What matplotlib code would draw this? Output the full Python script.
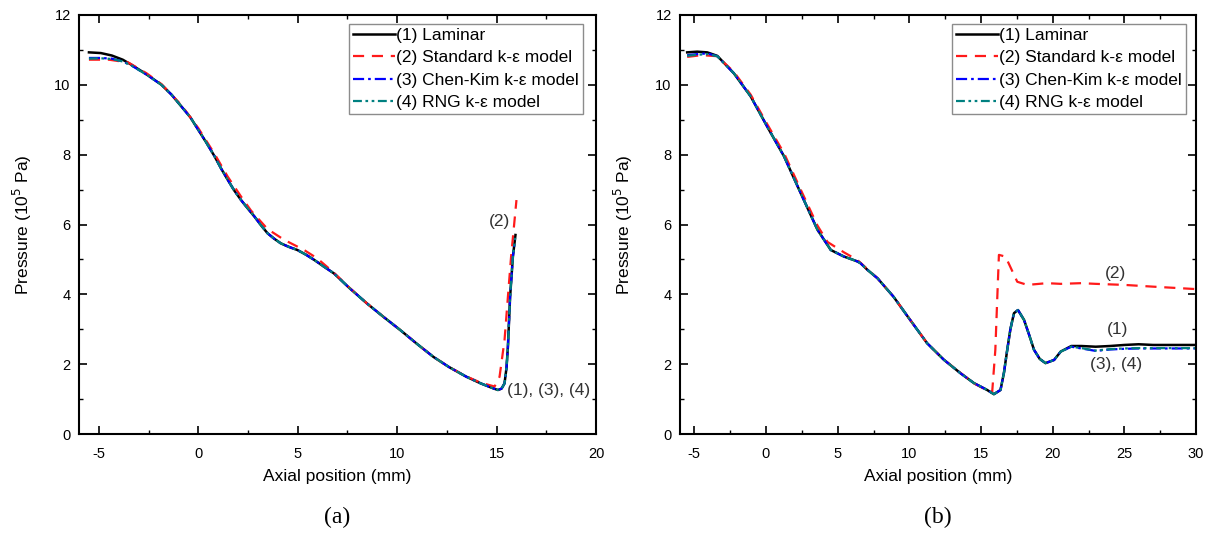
import matplotlib
matplotlib.use("Agg")
import matplotlib.pyplot as plt
from matplotlib.ticker import MultipleLocator

plt.rcParams['font.family'] = ['Liberation Sans', 'DejaVu Sans']
plt.rcParams['axes.unicode_minus'] = False

# ---------------- Panel (a) data ----------------
a_lam_x = [-5.5, -4.9, -4.35, -3.8, -3.35, -2.6, -1.85, -1.35, -0.85, -0.4, 0.0, 0.4, 0.82, 1.15, 1.48, 1.8, 2.15, 2.5, 2.82, 3.15, 3.48, 3.8, 4.15, 4.55, 4.98, 5.4, 5.82, 6.3, 6.82, 7.6, 8.48, 9.3, 10.15, 11.0, 11.82, 12.6, 13.48, 14.2, 14.82, 15.07, 15.25, 15.4, 15.5, 15.57, 15.68, 15.82, 15.95]
a_lam_y = [10.93, 10.91, 10.84, 10.72, 10.57, 10.3, 10.0, 9.72, 9.38, 9.07, 8.71, 8.35, 7.95, 7.6, 7.28, 6.98, 6.7, 6.45, 6.23, 5.98, 5.75, 5.6, 5.46, 5.36, 5.27, 5.14, 4.99, 4.8, 4.6, 4.18, 3.74, 3.36, 2.98, 2.58, 2.21, 1.92, 1.64, 1.45, 1.31, 1.26, 1.3, 1.45, 1.9, 2.5, 3.93, 5.08, 5.7]

a_std_x = [-5.5, -4.5, -3.52, -2.6, -1.85, -0.85, 0.0, 0.82, 1.48, 2.15, 2.65, 3.48, 4.32, 5.32, 5.98, 6.82, 7.6, 8.48, 9.3, 10.15, 11.0, 11.82, 12.6, 13.48, 14.2, 14.9, 15.15, 15.4, 15.57, 15.73, 16.0]
a_std_y = [10.72, 10.72, 10.64, 10.33, 10.02, 9.42, 8.76, 8.02, 7.37, 6.8, 6.4, 5.87, 5.56, 5.27, 5.03, 4.62, 4.19, 3.74, 3.36, 2.98, 2.58, 2.21, 1.92, 1.65, 1.47, 1.36, 1.64, 2.69, 3.93, 5.08, 6.7]

a_ck_x = [-5.5, -4.9, -4.35, -3.8, -3.35, -2.6, -1.85, -1.35, -0.85, -0.4, 0.0, 0.4, 0.82, 1.15, 1.48, 1.8, 2.15, 2.5, 2.82, 3.15, 3.48, 3.8, 4.15, 4.55, 4.98, 5.4, 5.82, 6.3, 6.82, 7.6, 8.48, 9.3, 10.15, 11.0, 11.82, 12.6, 13.48, 14.2, 14.82, 15.07, 15.25, 15.4, 15.5, 15.57, 15.68, 15.82, 15.93]
a_ck_y = [10.77, 10.77, 10.75, 10.67, 10.55, 10.29, 10.0, 9.72, 9.38, 9.07, 8.71, 8.35, 7.95, 7.6, 7.28, 6.98, 6.7, 6.45, 6.23, 5.98, 5.75, 5.6, 5.46, 5.36, 5.27, 5.14, 4.99, 4.8, 4.6, 4.18, 3.74, 3.36, 2.98, 2.58, 2.21, 1.92, 1.64, 1.45, 1.31, 1.26, 1.3, 1.45, 1.9, 2.5, 3.93, 5.08, 5.6]

a_rng_x = a_ck_x
a_rng_y = [10.75, 10.76, 10.74, 10.67, 10.55, 10.29, 10.0, 9.72, 9.38, 9.07, 8.71, 8.35, 7.95, 7.6, 7.28, 6.98, 6.7, 6.45, 6.23, 5.98, 5.75, 5.6, 5.46, 5.36, 5.27, 5.14, 4.99, 4.8, 4.6, 4.18, 3.74, 3.36, 2.98, 2.58, 2.21, 1.92, 1.64, 1.45, 1.31, 1.26, 1.3, 1.45, 1.9, 2.5, 3.93, 5.08, 5.62]

# ---------------- Panel (b) data ----------------
b_lam_x = [-5.5, -4.8, -4.1, -3.4, -2.24, -1.07, 0.09, 1.26, 2.42, 3.59, 4.52, 5.45, 6.0, 6.39, 6.6, 7.08, 7.78, 8.9, 10.0, 11.24, 12.4, 13.57, 14.5, 15.43, 15.9, 16.36, 16.6, 16.83, 17.05, 17.3, 17.58, 18.0, 18.35, 18.7, 19.1, 19.5, 20.1, 20.56, 21.3, 22.0, 23.0, 24.0, 25.0, 26.0, 27.0, 28.0, 30.0]
b_lam_y = [10.93, 10.95, 10.93, 10.83, 10.33, 9.67, 8.8, 7.95, 6.9, 5.85, 5.27, 5.08, 5.0, 4.94, 4.89, 4.7, 4.46, 3.93, 3.3, 2.6, 2.13, 1.74, 1.46, 1.26, 1.14, 1.26, 1.75, 2.41, 3.0, 3.46, 3.55, 3.27, 2.85, 2.41, 2.15, 2.03, 2.12, 2.36, 2.52, 2.52, 2.5, 2.52, 2.55, 2.57, 2.55, 2.55, 2.55]

b_std_x = [-5.5, -4.5, -3.4, -2.24, -1.07, 0.09, 1.26, 2.42, 3.59, 4.29, 5.45, 6.39, 7.08, 7.78, 8.9, 10.0, 11.24, 12.4, 13.57, 14.5, 15.43, 15.78, 16.0, 16.13, 16.25, 16.71, 17.53, 18.23, 19.6, 20.56, 22.0, 23.0, 25.0, 27.0, 30.0]
b_std_y = [10.8, 10.85, 10.82, 10.37, 9.72, 8.87, 8.04, 7.0, 5.97, 5.5, 5.2, 4.98, 4.72, 4.46, 3.93, 3.3, 2.6, 2.13, 1.75, 1.45, 1.25, 1.2, 2.41, 3.84, 5.13, 5.08, 4.36, 4.27, 4.32, 4.3, 4.32, 4.3, 4.27, 4.22, 4.15]

b_ck_x = b_lam_x
b_ck_y = [10.85, 10.88, 10.9, 10.82, 10.33, 9.67, 8.8, 7.95, 6.9, 5.85, 5.27, 5.08, 5.0, 4.94, 4.89, 4.7, 4.46, 3.93, 3.3, 2.6, 2.13, 1.74, 1.46, 1.26, 1.14, 1.26, 1.75, 2.41, 3.0, 3.46, 3.55, 3.27, 2.85, 2.41, 2.15, 2.03, 2.12, 2.36, 2.5, 2.45, 2.38, 2.42, 2.44, 2.45, 2.45, 2.45, 2.45]

b_rng_x = b_lam_x
b_rng_y = [10.83, 10.86, 10.88, 10.82, 10.33, 9.67, 8.8, 7.95, 6.9, 5.85, 5.27, 5.08, 5.0, 4.94, 4.89, 4.7, 4.46, 3.93, 3.3, 2.6, 2.13, 1.74, 1.46, 1.26, 1.14, 1.26, 1.75, 2.41, 3.0, 3.46, 3.55, 3.27, 2.85, 2.41, 2.15, 2.03, 2.12, 2.36, 2.5, 2.46, 2.39, 2.43, 2.45, 2.46, 2.46, 2.46, 2.46]

labels = ["(1) Laminar", "(2) Standard k-\u03b5 model", "(3) Chen-Kim k-\u03b5 model", "(4) RNG k-\u03b5 model"]
x_ticks_a = [-5, 0, 5, 10, 15, 20]
x_ticks_b = [-5, 0, 5, 10, 15, 20, 25, 30]
y_ticks = [0, 2, 4, 6, 8, 10, 12]

W, H = 1208, 534
fig = plt.figure(figsize=(W / 100, H / 100), dpi=100)

def px_axes(x0, x1, y0, y1):
    return fig.add_axes([x0 / W, 1 - y1 / H, (x1 - x0) / W, (y1 - y0) / H])

ax_a = px_axes(79, 596, 15, 434)
ax_b = px_axes(680, 1196, 15, 434)

def draw(ax, series, xlim, xticks, caption, legend_anchor):
    styles = [
        dict(color='black', lw=1.8, ls='-'),
        dict(color='#ff1a1a', lw=1.6, ls=(0, (5, 3.5))),
        dict(color='#0000ff', lw=1.6, ls=(0, (5, 1.8, 1.2, 1.8))),
        dict(color='#008080', lw=1.6, ls=(0, (4, 1.6, 1.2, 1.6, 1.2, 1.6))),
    ]
    for (x, y), st, lab in zip(series, styles, labels):
        ax.plot(x, y, label=lab, solid_joinstyle='round', **st)
    ax.set_xlim(*xlim)
    ax.set_ylim(0, 12)
    ax.set_xticks(xticks)
    ax.set_yticks(y_ticks)
    ax.xaxis.set_minor_locator(MultipleLocator(2.5))
    ax.yaxis.set_minor_locator(MultipleLocator(1))
    ax.tick_params(which='both', direction='in', top=True, right=True, labelsize=10.5, colors='black')
    ax.tick_params(which='major', length=6, width=1.2)
    ax.tick_params(which='minor', length=3, width=1.0)
    ax.tick_params(axis='x', pad=9)
    ax.tick_params(axis='y', pad=6)
    for s in ax.spines.values():
        s.set_linewidth(1.5)
    w_px = ax.get_position().width * W
    ax.set_xlabel("Axial position (mm)", fontsize=12.5)
    ax.xaxis.set_label_coords(0.5, (434 - 477) / 419)
    ax.xaxis.label.set_verticalalignment('center')
    ax.set_ylabel("Pressure (10$^{5}$ Pa)", fontsize=12.5)
    ax.yaxis.set_label_coords(-57 / w_px, 0.5)
    ax.yaxis.label.set_verticalalignment('center')
    leg = ax.legend(loc='upper right', bbox_to_anchor=legend_anchor, borderaxespad=0,
                    fontsize=12.5, frameon=True, fancybox=False, edgecolor='#707070',
                    handlelength=2.4, handletextpad=0.1, labelspacing=0.42, borderpad=0.22)
    leg.get_frame().set_linewidth(1.0)
    ax.text(0.5, (434 - 517) / 419, caption, transform=ax.transAxes, ha='center', va='center',
            fontsize=17, family='Liberation Serif')

draw(ax_a, [(a_lam_x, a_lam_y), (a_std_x, a_std_y), (a_ck_x, a_ck_y), (a_rng_x, a_rng_y)],
     (-6, 20), x_ticks_a, "(a)", ((583 - 79) / 517, (434 - 24) / 419))
draw(ax_b, [(b_lam_x, b_lam_y), (b_std_x, b_std_y), (b_ck_x, b_ck_y), (b_rng_x, b_rng_y)],
     (-6, 30), x_ticks_b, "(b)", ((1186 - 680) / 516, (434 - 24) / 419))

ax_a.text(15.15, 6.1, "(2)", fontsize=12.5, ha='center', va='center', color='#333333')
ax_a.text(17.6, 1.25, "(1), (3), (4)", fontsize=12.5, ha='center', va='center', color='#333333')
ax_b.text(24.4, 4.6, "(2)", fontsize=12.5, ha='center', va='center', color='#333333')
ax_b.text(24.5, 2.98, "(1)", fontsize=12.5, ha='center', va='center', color='#333333')
ax_b.text(24.4, 2.0, "(3), (4)", fontsize=12.5, ha='center', va='center', color='#333333')

fig.savefig("out.png", dpi=100)
